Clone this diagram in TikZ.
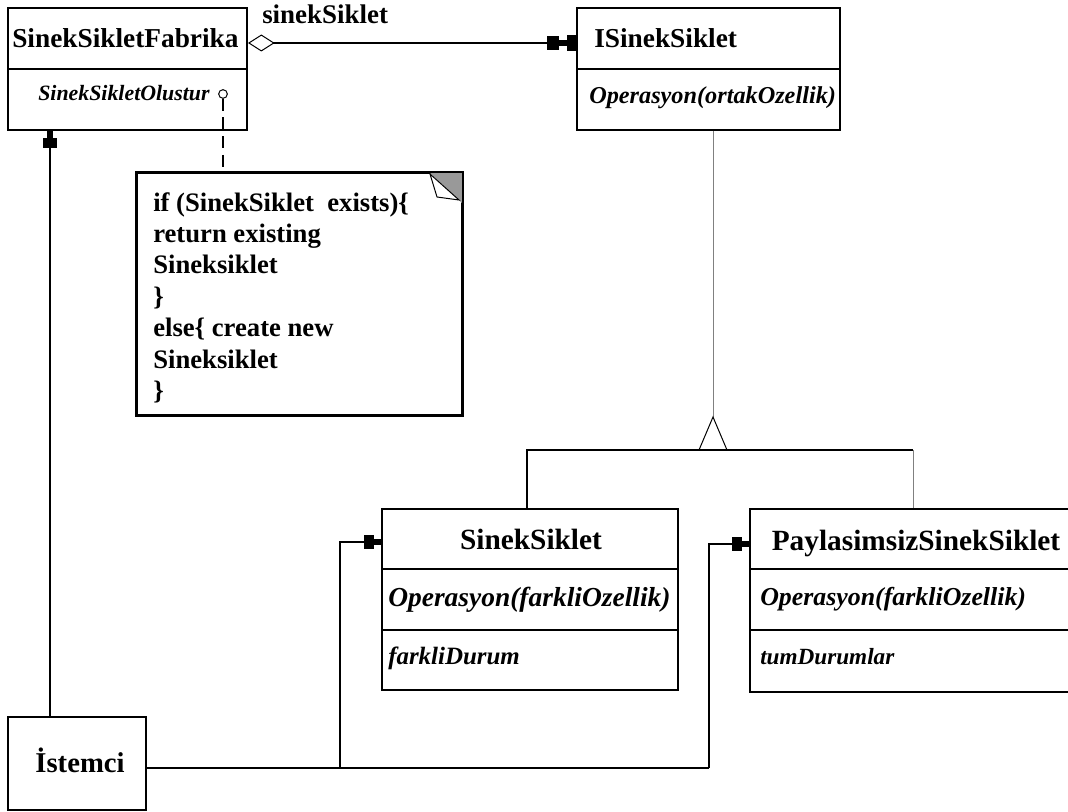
\documentclass[tikz,border=0pt]{standalone}
\usepackage{fontspec}
\setmainfont{Liberation Serif}
\usetikzlibrary{arrows.meta,fit,calc}
\begin{document}
\begin{tikzpicture}[x=0.75pt,y=-0.75pt,
  box/.style={draw, line width=1.5pt, inner sep=0pt, fit={#1}},
  sep/.style={line width=1.5pt},
  conn/.style={line width=1.5pt},
  faint/.style={line width=0.75pt, draw=black!50},
  txt/.style={anchor=base west, inner sep=0pt},
  ttl/.style={txt, font=\fontsize{20.5}{24}\selectfont\bfseries},
  bigttl/.style={anchor=base, inner sep=0pt, font=\fontsize{22}{26}\selectfont\bfseries},
  op/.style={txt, font=\fontsize{#1}{20}\selectfont\bfseries\itshape},
  attr/.style={txt, font=\fontsize{#1}{22}\selectfont\bfseries\itshape},
  nav/.style={-{Rectangle[length=7.5pt,width=10pt] Rectangle[length=5pt,width=5pt]}},
  agg/.style={{Diamond[open,length=20pt,width=12.75pt,line width=0.75pt]}-{Rectangle[length=9pt,width=11pt] Rectangle[length=6pt,width=4pt] Rectangle[length=6.5pt,width=12pt]}}
]
\useasboundingbox (0,0) rectangle (1068,812);
\clip (0,0) rectangle (1068,812);

% factory class
\node[box={(8,8)(247,130)}] (fab) {};
\draw[sep] (8,69) -- (247,69);
\node[ttl] (fabname) at (12,48) {SinekSikletFabrika};
\node[op=16.4] (fabop) at (38,101) {SinekSikletOlustur};
\node[circle, draw, line width=0.75pt, minimum size=6.5pt, inner sep=0pt] (opdot) at (223,94) {};

% flyweight interface
\node[box={(577,8)(840,130)}] (isk) {};
\draw[sep] (577,69) -- (840,69);
\node[ttl] (iskname) at (594,48) {ISinekSiklet};
\node[op=18.2] (iskop) at (589,104) {Operasyon(ortakOzellik)};

% association between factory and interface
\draw[conn, agg] (fab.east |- 0,43) -- (isk.west |- 0,43);
\node[txt, font=\fontsize{20.2}{24}\selectfont\bfseries] (rolename) at (262,24) {sinekSiklet};

% note attached to the factory operation
\node[box={(137,173)(462,415)}, line width=1.2pt] (note) {};
\fill[black!40] (430,173) -- (462,173) -- (462,203) -- cycle;
\draw[line width=0.75pt, fill=white] (430,174) -- (437,197) -- (459,200) -- cycle;
\draw[line width=1.2pt] (note.north west) rectangle (note.south east);
\node[txt, anchor=north west, align=left, font=\fontsize{20}{23.6}\selectfont\bfseries] (notetext) at (153,192)
  {if (SinekSiklet\ \ exists)\{\\return existing\\Sineksiklet\\\}\\else\{ create new\\Sineksiklet\\\}};
\draw[line width=1.2pt, dash pattern=on 9pt off 5pt] (opdot.south) -- (note.north -| opdot);

% concrete flyweights
\node[box={(382,509)(678,690)}] (ss) {};
\draw[sep] (382,569) -- (678,569);
\draw[sep] (382,630) -- (678,630);
\node[bigttl] (ssname) at (531,550) {SinekSiklet};
\node[op=20.6] (ssop) at (388,607) {Operasyon(farkliOzellik)};
\node[attr=18.7] (ssattr) at (388,665) {farkliDurum};

\node[box={(750,509)(1090,692)}] (ps) {};
\draw[sep] (750,569) -- (1090,569);
\draw[sep] (750,630) -- (1090,630);
\node[bigttl] (psname) at (916,551) {PaylasimsizSinekSiklet};
\node[op=19.4] (psop) at (760,606) {Operasyon(farkliOzellik)};
\node[attr=17.4] (psattr) at (760,665) {tumDurumlar};

% generalisation
\coordinate (apex) at (713,417);
\coordinate (barL) at (527,450);
\coordinate (barR) at (913,450);
\draw[faint] (isk.south -| apex) -- (apex);
\draw[line width=0.75pt, fill=white] (apex) -- (699,450) -- (727,450) -- cycle;
\draw[conn] (ss.north -| barL) -- (barL) -- (barR);
\draw[faint] (barR) -- (ps.north -| barR);

% client
\node[box={(8,717)(146,810)}] (ist) {};
\node[anchor=base, inner sep=0pt, font=\fontsize{21.5}{26}\selectfont\bfseries] (istname) at (80,772) {İstemci};
\coordinate (j1) at (340,768);
\coordinate (j2) at (709,768);
\coordinate (up) at (50,0);
\draw[conn] (ist.east |- j1) -- (j2);
\draw[conn, nav] (j1) |- ($(ss.north west)+(0,34)$);
\draw[conn, nav] (j2) |- ($(ps.north west)+(0,36)$);
\draw[conn, nav] (ist.north -| up) -- (fab.south -| up);
\end{tikzpicture}
\end{document}
